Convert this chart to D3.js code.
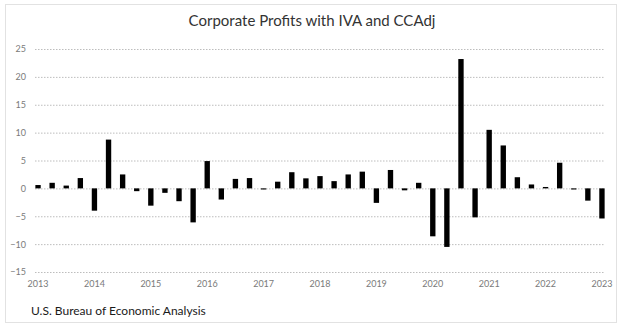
<!DOCTYPE html>
<html>
<head>
<meta charset="utf-8">
<script src="https://cdn.jsdelivr.net/npm/d3@7"></script>
<style>
  body { margin: 0; background: #fff; }
  svg { display: block; }
  text { font-family: Lato, "Open Sans", sans-serif; }
</style>
</head>
<body>
<script>
// Quarterly percent change, 2013 Q1 through 2023 Q1
var quarters = [];
var years = d3.range(2013, 2024);
years.forEach(function(y) {
    ["Q1", "Q2", "Q3", "Q4"].forEach(function(q) {
        if (y < 2023 || q == "Q1") quarters.push(y + " " + q);
    });
});

var values = [
    0.6, 1.0, 0.5, 1.85,      // 2013
    -4.0, 8.75, 2.5, -0.5,    // 2014
    -3.1, -0.8, -2.3, -6.1,   // 2015
    4.9, -2.0, 1.7, 1.85,     // 2016
    -0.2, 1.2, 2.9, 1.8,      // 2017
    2.2, 1.3, 2.5, 3.0,       // 2018
    -2.6, 3.3, -0.35, 1.0,    // 2019
    -8.6, -10.5, 23.2, -5.2,  // 2020
    10.5, 7.7, 2.0, 0.7,      // 2021
    0.25, 4.6, -0.2, -2.2,    // 2022
    -5.4                      // 2023
];

var yTicks = [-15, -10, -5, 0, 5, 10, 15, 20, 25];
var title = "Corporate Profits with IVA and CCAdj";
var source = "U.S. Bureau of Economic Analysis";

var width = 620, height = 330;

var svg = d3.select("body").append("svg")
    .attr("width", width)
    .attr("height", height);

// outer frame
svg.append("rect")
    .attr("x", 5.5).attr("y", 4.5)
    .attr("width", 611).attr("height", 318)
    .attr("fill", "none")
    .attr("stroke", "#c4c4c4")
    .attr("stroke-dasharray", "1,1");

var x = d3.scaleBand()
    .domain(quarters)
    .range([31, 609])
    .paddingInner(0.62)
    .paddingOuter(0.31);

var y = d3.scaleLinear()
    .domain([-15, 25])
    .range([272, 49]);

// gridlines + y labels
var yAxis = svg.append("g")
    .attr("transform", "translate(35,0)")
    .call(d3.axisLeft(y).tickValues(yTicks).tickSize(-570).tickPadding(9));

yAxis.select(".domain").remove();
yAxis.selectAll(".tick line")
    .attr("stroke", "#bdbdbd")
    .attr("stroke-dasharray", "1.5,1.5");
yAxis.selectAll(".tick text")
    .attr("fill", "#7a7a7a")
    .attr("font-size", 9);

// bars
svg.append("g").selectAll("rect")
    .data(values)
    .enter().append("rect")
    .attr("x", function(d, i) { return x(quarters[i]); })
    .attr("width", x.bandwidth())
    .attr("y", function(d) { return y(Math.max(0, d)); })
    .attr("height", function(d) { return Math.abs(y(d) - y(0)); })
    .attr("fill", "#000");

// year labels under the first quarter of each year
var xAxis = svg.append("g")
    .attr("transform", "translate(0,272)")
    .call(d3.axisBottom(x)
        .tickValues(years.map(function(y) { return y + " Q1"; }))
        .tickFormat(function(d) { return d.slice(0, 4); })
        .tickSize(0).tickPadding(9));

xAxis.select(".domain").remove();
xAxis.selectAll(".tick text")
    .attr("fill", "#7a7a7a")
    .attr("font-size", 9);

svg.append("text")
    .attr("x", 312).attr("y", 26)
    .attr("text-anchor", "middle")
    .attr("font-size", 15)
    .attr("fill", "#333")
    .text(title);

svg.append("text")
    .attr("x", 31).attr("y", 315)
    .attr("font-size", 12)
    .attr("fill", "#1a1a1a")
    .text(source);
</script>
</body>
</html>
